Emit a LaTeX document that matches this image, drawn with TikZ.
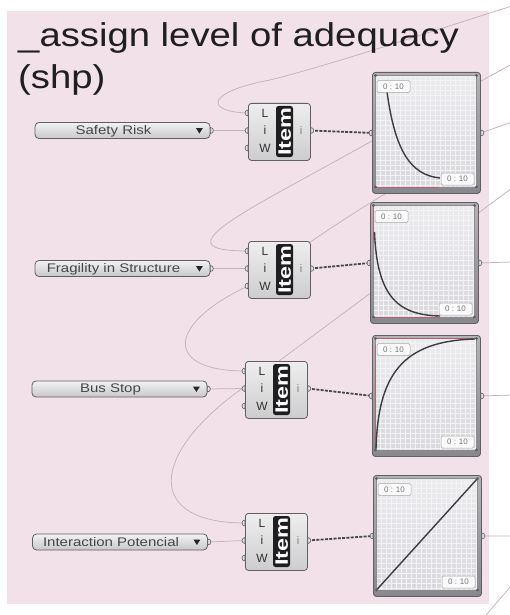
\documentclass[tikz,border=0pt]{standalone}
\usepackage{fontspec}
\setmainfont{Liberation Sans}
\usetikzlibrary{calc}
\pgfdeclarelayer{back}
\pgfdeclarelayer{wires}
\pgfsetlayers{back,wires,main}
\definecolor{panelpink}{RGB}{243,225,233}
\definecolor{wirec}{RGB}{196,178,188}
\definecolor{darkwire}{RGB}{70,70,75}
\definecolor{borderC}{RGB}{95,95,100}
\definecolor{frameTop}{RGB}{178,178,183}
\definecolor{frameBot}{RGB}{135,135,141}
\definecolor{plotTop}{RGB}{236,236,239}
\definecolor{plotBot}{RGB}{216,216,221}
\definecolor{gridC}{RGB}{243,243,246}
\definecolor{ddTop}{RGB}{242,242,242}
\definecolor{ddBot}{RGB}{200,200,202}
\definecolor{ddText}{RGB}{70,70,72}
\definecolor{itemTop}{RGB}{238,238,238}
\definecolor{itemBot}{RGB}{205,205,207}
\definecolor{bandC}{RGB}{30,30,32}
\definecolor{labelText}{RGB}{120,120,125}
\definecolor{redLine}{RGB}{185,95,110}
\definecolor{curveC}{RGB}{60,60,65}
\definecolor{portFill}{RGB}{225,225,227}
\tikzset{
  wire/.style={draw=wirec, line width=0.75pt},
  listwire/.style={draw=darkwire, line width=1.8pt, dash pattern=on 3pt off 1.3pt},
  ddbox/.style={draw=borderC, line width=0.8pt, rounded corners=4pt, top color=ddTop, bottom color=ddBot, minimum width=175pt, minimum height=16pt, inner sep=0pt},
  ddtext/.style={font=\fontsize{12.5}{13}\selectfont, text=ddText, xscale=1.2, inner sep=0pt},
  itembox/.style={draw=borderC, line width=0.8pt, rounded corners=3pt, top color=itemTop, bottom color=itemBot, minimum width=62pt, minimum height=57pt, inner sep=0pt},
  bandtext/.style={font=\fontsize{18}{18}\selectfont\bfseries, text=white, inner sep=0pt},
  inlab/.style={font=\fontsize{12}{12}\selectfont, text=black!80, inner sep=0pt},
  outlab/.style={font=\fontsize{11}{11}\selectfont, text=black!50, inner sep=0pt},
  graphbox/.style={draw=borderC, line width=0.9pt, rounded corners=3pt, top color=frameTop, bottom color=frameBot, minimum width=108pt, minimum height=121pt, inner sep=0pt},
  gridline/.style={draw=gridC, line width=0.4pt},
  plotframe/.style={draw=black!45, line width=0.5pt},
  mapcurve/.style={draw=curveC, line width=1.4pt},
  redl/.style={draw=redLine, line width=0.6pt},
  maplabel/.style={fill=white!96!gray, draw=gray!70, line width=0.5pt, rounded corners=1.5pt, font=\fontsize{8}{8}\selectfont, text=labelText, minimum width=33pt, minimum height=12pt, inner sep=0pt},
  titlef/.style={font=\fontsize{33}{35}\selectfont, text=black!88, xscale=1.16, inner sep=0pt},
  port/.style={fill=portFill, draw=borderC, line width=0.6pt}
}
\newcommand\portL[1]{\filldraw[port] ($(#1)+(0,-3)$) arc[start angle=90, end angle=270, radius=3pt] -- cycle;}
\newcommand\portR[1]{\filldraw[port] ($(#1)+(0,-3)$) arc[start angle=90, end angle=-90, radius=3pt] -- cycle;}
\newcommand\GHdrop[4]{%
  \node[ddbox] (#1) at (#2,#3) {};
  \node[ddtext] (#1-t) at ($(#1.center)+(-9,0.5)$) {#4};
  \fill[black!85] ($(#1.east)+(-14.5,-2.5)$) -- ++(7,0) -- ++(-3.5,5.5) -- cycle;
  \coordinate (#1-o) at (#1.east);
  \portR{#1-o}
}
\newcommand\GHitem[3]{%
  \node[itembox, anchor=north west] (#1) at (#2,#3) {};
  \coordinate (#1-L) at ($(#1.north west)+(0,10)$);
  \coordinate (#1-i) at ($(#1.north west)+(0,27.5)$);
  \coordinate (#1-W) at ($(#1.north west)+(0,45)$);
  \coordinate (#1-o) at ($(#1.north east)+(0,27.5)$);
  \fill[bandC, rounded corners=2.5pt] ($(#1.north west)+(28,3)$) rectangle ($(#1.north west)+(45,54)$);
  \node[bandtext, rotate=90, xscale=1.3] (#1-band) at ($(#1.north west)+(36.8,28.5)$) {Item};
  \node[inlab] (#1-tL) at ($(#1.north west)+(17,10)$) {L};
  \node[inlab] (#1-ti) at ($(#1.north west)+(17,27.5)$) {i};
  \node[inlab] (#1-tW) at ($(#1.north west)+(17,45)$) {W};
  \node[outlab] (#1-to) at ($(#1.north west)+(53,27.5)$) {i};
  \portL{#1-L}\portL{#1-i}\portL{#1-W}\portR{#1-o}
}
\newcommand\GHgraph[4]{%
  \node[graphbox, anchor=north west] (#1) at (#2,#3) {};
  \coordinate (#1-in) at (#1.west);
  \coordinate (#1-out) at (#1.east);
  \begin{scope}[shift={(#1.north west)}]
    \fill[top color=plotTop, bottom color=plotBot] (3.5,3.5) rectangle (104.5,115);
    \foreach \g in {8.5,13.5,...,103.5} \draw[gridline] (\g,3.5) -- (\g,115);
    \foreach \g in {8.5,13.5,...,113.5} \draw[gridline] (3.5,\g) -- (104.5,\g);
    \draw[plotframe] (3.5,3.5) rectangle (104.5,115);
    #4
    \node[maplabel] (#1-lo) at (21.5,14.5) {0 : 10};
    \node[maplabel] (#1-hi) at (85.5,107) {0 : 10};
    \foreach \p in {(3.5,3.5),(104.5,3.5),(3.5,115),(104.5,115)} \fill[borderC] \p circle[radius=1.6pt];
  \end{scope}
  \portL{#1-in}\portR{#1-out}
}
\begin{document}
\begin{tikzpicture}[x=1pt,y=-1pt]
\useasboundingbox (0,0) rectangle (509,615);
\begin{pgfonlayer}{back}
  \fill[white] (0,0) rectangle (509,615);
  \fill[panelpink] (7,11) rectangle (489,604);
\end{pgfonlayer}

\node[titlef, anchor=base west] (t1) at (18,47) {\_assign level of adequacy};
\node[titlef, anchor=base west] (t2) at (18,89) {(shp)};

\GHdrop{dd1}{122.5}{130.5}{Safety Risk}
\GHdrop{dd2}{122.5}{268.5}{Fragility in Structure}
\GHdrop{dd3}{119.5}{389}{Bus Stop}
\GHdrop{dd4}{120}{542}{Interaction Potencial}

\GHitem{it1}{248}{103}
\GHitem{it2}{248}{241}
\GHitem{it3}{245}{361}
\GHitem{it4}{245}{513}

\GHgraph{gr1}{372}{72}{%
  \draw[redl] (3.5,115) -- (66,115);
  \draw[mapcurve] (15,20) .. controls (23,78) and (38,103) .. (68,106);}
\GHgraph{gr2}{370}{202}{%
  \draw[redl] (3.5,3.5) -- (3.5,40);
  \draw[redl] (3.5,115) -- (70,115);
  \draw[mapcurve] (4.5,30) .. controls (7,95) and (28,113) .. (70,114);}
\GHgraph{gr3}{372}{335}{%
  \draw[redl] (3.5,3.5) -- (103,3.5);
  \draw[redl] (3.5,10) -- (3.5,114);
  \draw[mapcurve] (4,114) .. controls (6,40) and (30,6) .. (103,4);}
\GHgraph{gr4}{373}{475}{%
  \draw[mapcurve] (3.5,115) -- (104.5,3.5);}

\coordinate (e1) at (512,6);
\coordinate (e2) at (512,122);
\coordinate (e3) at (512,64);
\coordinate (e4) at (512,262);
\coordinate (e5) at (512,188);
\coordinate (e6) at (430,168);
\coordinate (e7) at (512,395);
\coordinate (e8) at (512,536);
\coordinate (e9) at (480,622);
\coordinate (e10) at (512,585);

\begin{pgfonlayer}{wires}
  \draw[wire] (dd1-o) -- (it1-i);
  \draw[wire] (dd2-o) -- (it2-i);
  \draw[wire] (dd3-o) -- (it3-i);
  \draw[wire] (dd4-o) -- (it4-i);
  \draw[listwire] (it1-o) -- (gr1-in);
  \draw[listwire] (it2-o) -- (gr2-in);
  \draw[listwire] (it3-o) -- (gr3-in);
  \draw[listwire] (it4-o) -- (gr4-in);
  \draw[wire] (it1-L) .. controls +(-43,-1) and (205,92) .. (270,80) .. controls (330,65) and (420,35) .. (e1);
  \draw[wire] (it2-L) .. controls +(-63,0) and (205,233) .. (283,190) -- (e3);
  \draw[wire] (it4-L) .. controls +(-100,0) and (150,455) .. (240,390) -- (e5);
  \draw[wire] (it3-L) .. controls +(-80,0) and (165,325) .. (it2-W) .. controls +(42,-30) and (350,212) .. (e6);
  \draw[wire] (gr1-out) -- (e2);
  \draw[wire] (gr2-out) -- (e4);
  \draw[wire] (gr3-out) -- (e7);
  \draw[wire] (gr4-out) -- (e8);
  \draw[wire] (e9) -- (e10);
\end{pgfonlayer}
\end{tikzpicture}
\end{document}
